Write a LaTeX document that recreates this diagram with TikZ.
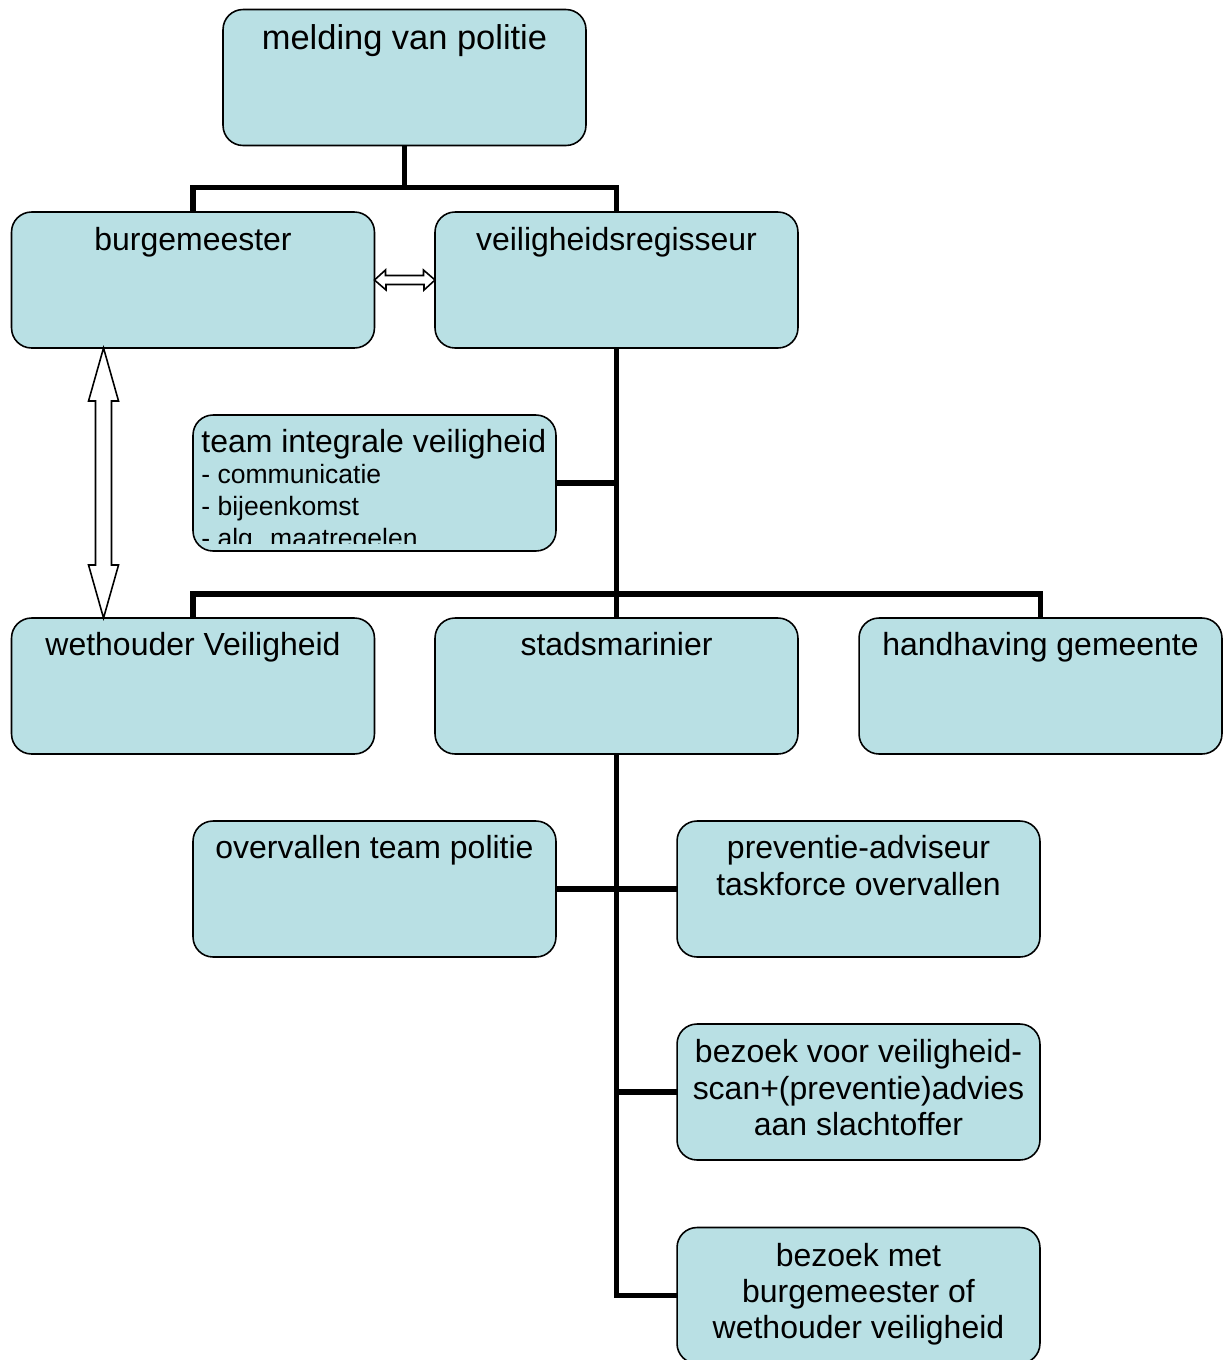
\documentclass[tikz,border=0pt]{standalone}
\usepackage{fontspec}
\setmainfont{Liberation Sans}
\usetikzlibrary{calc}
\definecolor{boxblue}{RGB}{185,224,228}

\begin{document}
\begin{tikzpicture}[
  x=0.02cm, y=-0.02cm,
  box/.style={draw=black, line width=0.9pt, fill=boxblue, rounded corners=0.4cm,
    minimum width=7.26cm, minimum height=2.72cm, inner sep=0pt, outer sep=0pt},
  lbl/.style={anchor=north, inner sep=0pt, align=center,
    font=\fontsize{18.2}{20.75}\selectfont},
  conn/.style={line width=3pt},
  hollow/.style={draw=black, fill=white, line width=0.9pt, line join=miter}
]
\useasboundingbox (0,0) rectangle (1223,1360);

% boxes:
\node[box] (melding) at (404.5,77.5) {};
\node[box] (burg)    at (193,280) {};
\node[box] (regis)   at (616.5,280) {};
\node[box] (tiv)     at (374.5,483) {};
\node[box] (weth)    at (193,686) {};
\node[box] (stads)   at (616.5,686) {};
\node[box] (handh)   at (1040.5,686) {};
\node[box] (overv)   at (374.5,889) {};
\node[box] (prev)    at (858.5,889) {};
\node[box] (scan)    at (858.5,1092) {};
\node[box] (bezoek)  at (858.5,1295.5) {};

% texts:
\node[lbl, font=\fontsize{19.6}{22}\selectfont] (melding-t) at ($(melding.north)+(0,14.5)$) {melding van politie};
\node[lbl] (burg-t)    at ($(burg.north)+(0,15)$) {burgemeester};
\node[lbl] (regis-t)   at ($(regis.north)+(0,14.5)$) {veiligheidsregisseur};
\node[lbl] (weth-t)    at ($(weth.north)+(0,13.5)$) {wethouder Veiligheid};
\node[lbl] (stads-t)   at ($(stads.north)+(0,13.5)$) {stadsmarinier};
\node[lbl] (handh-t)   at ($(handh.north)+(0,13.5)$) {handhaving gemeente};
\node[lbl] (overv-t)   at ($(overv.north)+(0,13.5)$) {overvallen team politie};
\node[lbl] (prev-t)    at ($(prev.north)+(0,14)$) {preventie-adviseur\\taskforce overvallen};
\node[lbl] (scan-t)    at ($(scan.north)+(0,15)$) {bezoek voor veiligheid-\\scan+(preventie)advies\\aan slachtoffer};
\node[lbl] (bezoek-t)  at ($(bezoek.north)+(0,15)$) {bezoek met\\burgemeester of\\wethouder veiligheid};
\node[lbl, anchor=north west] (tiv-t) at ($(tiv.north west)+(8,13.5)$) {team integrale veiligheid};
\begin{scope}
  \clip (tiv.north west) rectangle ($(tiv.south east)+(0,-7)$);
  \node[anchor=north west, inner sep=0pt, align=left,
    font=\fontsize{15.1}{18.2}\selectfont] (tiv-list) at ($(tiv.north west)+(8,49)$)
    {- communicatie\\- bijeenkomst\\- alg. maatregelen};
\end{scope}

% lines:
\draw[conn] (melding.south) -- ++(0,42) coordinate (bus1);
\draw[conn] (burg.north) |- (bus1) -| (regis.north);
\draw[conn] (regis.south) -- (stads.north);
\draw[conn] (tiv.east) -- (tiv.east -| regis.south);
\draw[conn] (weth.north) -- ++(0,-24) -| (handh.north);
\draw[conn] (stads.south) |- (bezoek.west);
\draw[conn] (overv.east) -- (prev.west);
\draw[conn] (scan.west) -- (scan.west -| stads.south);

% hollow double arrows:
\draw[hollow] (burg.east) -- ++(11,-10) -- ++(0,5.5) -- ++(38,0) -- ++(0,-5.5)
  -- (regis.west) -- ++(-11,10) -- ++(0,-5.5) -- ++(-38,0) -- ++(0,5.5) -- cycle;
\coordinate (va) at ($(burg.south west)+(92,0)$);
\coordinate (vb) at ($(weth.north west)+(92,0)$);
\draw[hollow] (va) -- ++(15,53) -- ++(-7,0) -- ++(0,164) -- ++(7,0)
  -- (vb) -- ++(-15,-53) -- ++(7,0) -- ++(0,-164) -- ++(-7,0) -- cycle;
\end{tikzpicture}
\end{document}
